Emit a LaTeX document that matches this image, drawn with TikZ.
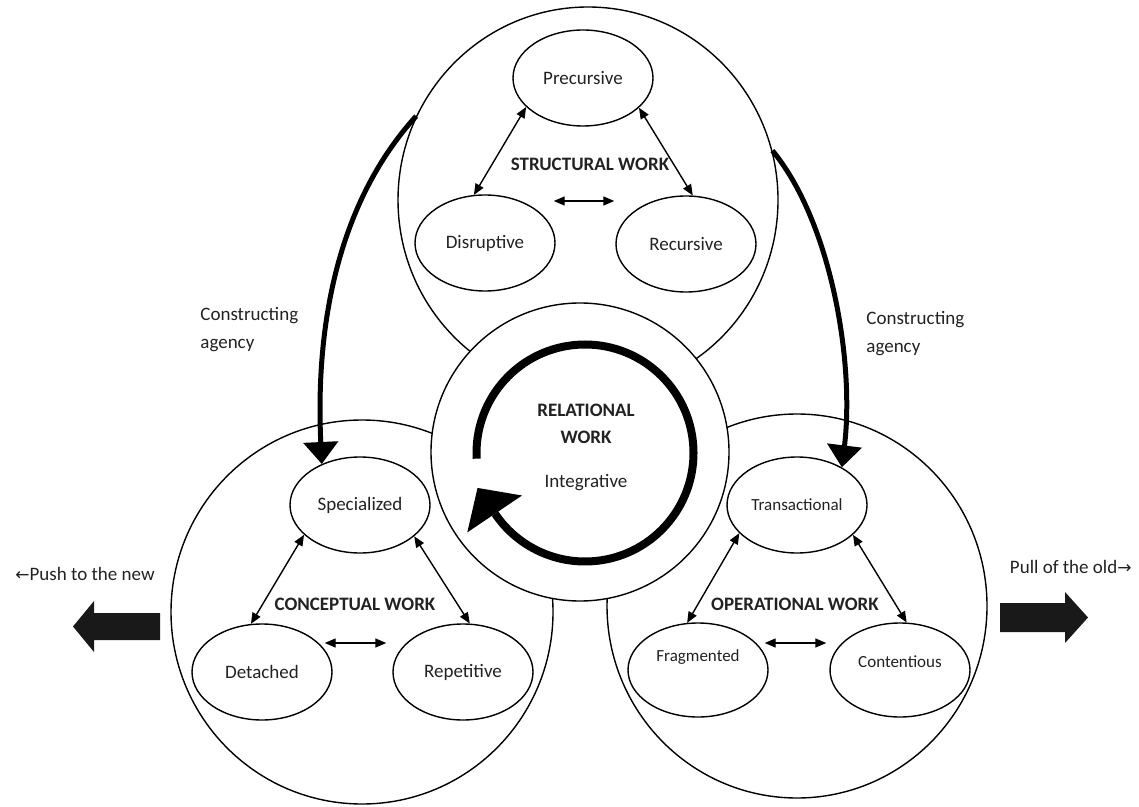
\documentclass[tikz,border=0pt]{standalone}
\usepackage{fontspec}
\setmainfont{Carlito}
\newfontfamily\dejavu{DejaVu Sans}
\usetikzlibrary{arrows.meta,shapes.geometric}
\definecolor{ink}{HTML}{222222}
\begin{document}
\begin{tikzpicture}[x=0.5pt,y=0.5pt,
  every node/.style={text=ink},
  bigellipse/.style={draw=black, line width=0.7pt, ellipse, inner sep=0pt},
  subellipse/.style={draw=black, line width=0.7pt, ellipse, fill=white, minimum width=70pt, minimum height=48pt, inner sep=0pt, font=\fontsize{9.5pt}{11pt}\selectfont},
  opsub/.style={font=\fontsize{8.5pt}{10pt}\selectfont, inner sep=0pt, text=ink},
  worklabel/.style={font=\bfseries\fontsize{9.5pt}{11pt}\selectfont, inner sep=0pt},
  dbl/.style={{Triangle[length=5.5pt,width=4.5pt]}-{Triangle[length=5.5pt,width=4.5pt]}, line width=0.7pt},
  agency/.style={line width=2.5pt, -{Triangle[length=11pt,width=17pt]}},
  plain/.style={font=\fontsize{9.5pt}{14pt}\selectfont, inner sep=0pt},
]
\useasboundingbox (0,0) rectangle (1139,-807);

% big work circles
\node[bigellipse, minimum width=190pt, minimum height=193pt] (struct) at (588,-200) {};
\node[bigellipse, minimum width=191pt, minimum height=192pt] (concept) at (362,-612) {};
\node[bigellipse, minimum width=190pt, minimum height=192pt] (oper) at (797,-606) {};
\node[circle, draw=black, line width=0.7pt, fill=white, minimum size=149pt, inner sep=0pt] (rel) at (580,-452) {};

% circular arrow of relational work
\coordinate (rc) at (585,-453);
\draw[line width=4pt] ([shift={(183:54.25pt)}]rc) arc[start angle=183, end angle=-146, radius=54.25pt];
\fill[black] ([shift={(214:38pt)}]rc) -- ([shift={(214:71pt)}]rc) -- ([shift={(198:56.5pt)}]rc) -- cycle;
\node[plain, font=\fontsize{9.5pt}{13.5pt}\selectfont, align=center] (reltext) at (586,-447.3)
  {\textbf{RELATIONAL}\\\textbf{WORK}\\[8.5pt]Integrative};

% structural work
\node[subellipse] (prec) at (583,-78) {Precursive};
\node[subellipse] (disr) at (485,-243) {Disruptive};
\node[subellipse] (rec) at (686,-244) {Recursive};
\node[worklabel] (swl) at (590,-164.5) {STRUCTURAL WORK};
\draw[dbl] (prec.207) -- (disr.103);
\draw[dbl] (prec.-28) -- (rec.82);
\draw[dbl] ([shift={(-1pt,21pt)}]disr.east) -- ([shift={(-0.5pt,21.5pt)}]rec.west);

% conceptual work
\node[subellipse] (spec) at (360,-505) {Specialized};
\node[subellipse] (det) at (262,-672) {Detached};
\node[subellipse] (rep) at (463,-672) {Repetitive};
\node[worklabel] (cwl) at (355,-604) {CONCEPTUAL WORK};
\draw[dbl] (spec.208) -- (det.103);
\draw[dbl] (spec.-30) -- (rep.82);
\draw[dbl] ([shift={(-4pt,14.5pt)}]det.east) -- ([shift={(-3pt,14.5pt)}]rep.west);

% operational work
\node[subellipse, font=\fontsize{8.5pt}{10pt}\selectfont] (trans) at (797,-505) {Transactional};
\node[subellipse, minimum height=47pt, label={[opsub, yshift=6.5pt]center:Fragmented}] (frag) at (698,-670) {};
\node[subellipse, minimum height=47pt, label={[opsub, yshift=4pt]center:Contentious}] (cont) at (900,-670) {};
\node[worklabel] (owl) at (795,-604) {OPERATIONAL WORK};
\draw[dbl] (trans.206) -- (frag.103);
\draw[dbl] (trans.-28) -- (cont.82);
\draw[dbl] ([shift={(-2pt,13.5pt)}]frag.east) -- ([shift={(-1.5pt,13.5pt)}]cont.west);

% constructing agency arrows
\draw[agency] (struct.154) .. controls (340,-200) and (315,-320) .. (spec.133);
\draw[agency] (struct.15) .. controls (830,-220) and (855,-360) .. (trans.40);
\node[plain, align=left, anchor=north west] (cal) at (200,-306.5) {Constructing\\agency};
\node[plain, align=left, anchor=north west] (car) at (866,-310.5) {Constructing\\agency};

% push / pull arrows
\fill[black!90] (160,-613) -- (94,-613) -- (94,-601) -- (73,-626.5) -- (94,-652) -- (94,-640) -- (160,-640) -- cycle;
\fill[black!90] (1000,-603) -- (1065,-603) -- (1065,-592) -- (1088,-617.5) -- (1065,-643) -- (1065,-632) -- (1000,-632) -- cycle;
\node[plain, anchor=base west] (push) at (15,-580) {{\dejavu\fontsize{8.5pt}{10pt}\selectfont ←}Push to the new};
\node[plain, anchor=base east] (pull) at (1132,-573) {Pull of the old{\dejavu\fontsize{8.5pt}{10pt}\selectfont →}};
\end{tikzpicture}
\end{document}
